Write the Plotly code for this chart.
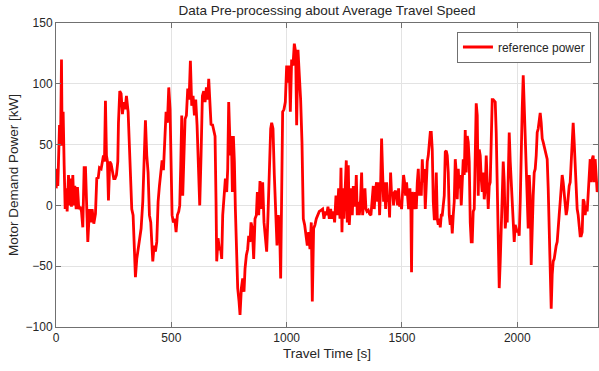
import plotly.graph_objects as go

# Travel time [s] and reference power [kW] in six segments
t_seg1 = [1, 3.6, 7.9, 12.3, 15.2, 19.5, 23.8, 26.7, 31.0, 35.4, 39.7, 44.0, 48.4, 54.2, 58.5, 62.8, 67.1,
          72.9, 77.3, 81.6, 87.4, 93.1, 98.9, 104.7, 110.5, 116.2, 122.0, 127.8, 133.6, 137.9, 145.1, 150.9,
          156.7, 163.9, 171.1, 176.9, 182.7, 188.4, 195.7, 200.0, 205.8, 210.1, 214.4, 218.8, 223.1, 227.4,
          233.2, 239.0, 244.8, 250.5, 256.3, 262.1, 267.9, 270.8, 276.5, 282.3, 288.1, 293.9, 299.6, 305.4,
          312.7, 318.4, 322.8, 328.5, 334.3, 338.6, 344.4, 350.2, 356.0, 361.8]
p_seg1 = [14, 30, 16, 38, 66, 49, 120, 49, 77, 33, -3, 14, -5, 25, 0, 22, -1,
          25, 0, 16, -3, 15, -3, -1, -5, -18, 31, 31, -8, -30, -3, -14,
          -3, -15, -7, 23, 22, 31, 30, 36, 41, 36, 86, 41, 36, 4,
          36, 34, 27, 22, 22, 25, 36, 68, 94, 92, 75, 85, 79, 90,
          77, 46, 16, -3, -8, -36, -59, -44, -36, -27]

t_seg2 = [369.0, 376.2, 382.0, 387.8, 393.6, 399.3, 405.1, 410.9, 415.2, 419.6, 425.3, 431.1, 436.9, 442.7,
          448.4, 454.2, 460.0, 465.8, 471.5, 477.3, 483.1, 488.9, 494.6, 499.0, 503.3, 509.1, 514.9, 520.6,
          526.4, 532.2, 536.5, 540.9, 545.2, 549.5, 553.9, 559.6, 565.4, 571.2, 577.0, 582.7, 588.5, 594.3,
          600.1, 605.8, 611.6, 617.4, 623.2, 628.9, 634.7, 640.5, 646.3, 652.0, 657.8, 662.2, 668.0, 672.3,
          678.0, 683.8, 689.6, 693.9, 696.8, 702.6, 708.4, 714.1, 718.5, 722.8, 728.6, 734.4, 740.1, 744.5,
          748.8]
p_seg2 = [-19, 3, 46, 70, 41, 27, -8, -14, -30, -46, -33, -38, -30, 3,
          16, 25, 37, 29, 60, 77, 68, 97, 79, 25, -8, -14, -11, -22,
          -8, -5, 0, 33, 74, 8, 41, 71, 74, 96, 87, 119, 82, 90,
          74, 87, 66, 33, 0, 41, 90, 94, 85, 97, 87, 104, 85, 66,
          67, 63, 57, 3, -46, -27, -36, -36, -44, -8, 11, 22, 11, 30,
          85]

t_seg3 = [756.0, 760.4, 764.7, 769.0, 773.4, 777.7, 783.5, 787.8, 793.6, 797.9, 803.7, 809.5, 815.2, 819.6,
          825.4, 831.1, 835.5, 841.2, 845.6, 851.3, 857.1, 862.9, 868.7, 873.0, 878.8, 884.5, 890.3, 896.1,
          901.9, 907.7, 913.4, 919.2, 925.0, 930.8, 935.1, 940.9, 946.6, 952.4, 958.2, 964.0, 969.7, 974.1,
          978.4, 982.7, 988.5, 994.3, 1000.1, 1005.9, 1011.6, 1016.0, 1021.7, 1027.5, 1033.3, 1039.1, 1043.4,
          1049.2, 1055.0, 1060.7, 1066.5, 1072.3, 1078.1, 1083.8, 1089.6, 1095.4, 1101.1, 1106.9, 1111.3,
          1117.0, 1122.8, 1128.6, 1135.8, 1141.6, 1148.8, 1156.0]
p_seg3 = [41, 57, 11, 57, 36, -3, -41, -68, -79, -90, -68, -60, -71, -52,
          -41, -36, -25, -30, -14, -19, -44, -11, -8, 11, -8, 20, -3, 19,
          -14, -30, -38, -8, 41, 63, 68, 63, 25, -8, -33, -8, -19, -60,
          -8, 77, 79, 85, 115, 101, 115, 77, 120, 115, 133, 126, 66,
          128, 107, 87, 52, -11, -16, -25, -33, -22, -36, -14, -79,
          -19, -16, -11, -8, -5, -4, -3]

t_seg4 = [1161.9, 1167.7, 1173.5, 1179.2, 1185.0, 1190.8, 1196.6, 1202.4, 1208.1, 1213.9, 1219.7, 1225.5,
          1231.2, 1235.6, 1239.9, 1244.2, 1248.6, 1254.3, 1258.7, 1263.0, 1267.3, 1271.7, 1276.0, 1280.3,
          1284.7, 1289.0, 1293.3, 1297.7, 1302.0, 1306.3, 1310.6, 1315.0, 1319.3, 1325.1, 1329.4, 1335.2,
          1339.5, 1343.9, 1348.2, 1354.0, 1359.7, 1365.5, 1371.3, 1375.6, 1380.0, 1384.3, 1390.1, 1394.4,
          1398.7, 1403.1, 1407.4, 1411.7, 1416.1, 1420.4, 1424.7, 1429.1, 1433.4, 1437.7, 1442.1, 1446.4,
          1450.7, 1455.1, 1459.4, 1463.7, 1468.0, 1472.4, 1476.7, 1481.0, 1485.4, 1489.7, 1494.0, 1498.4,
          1502.7, 1507.0, 1511.4, 1515.7, 1520.0, 1524.4, 1528.7, 1534.5, 1538.8, 1541.5]
p_seg4 = [-11, -5, -8, -1, -11, -3, -11, -5, -14, 8, -8, 14,
          -11, 31, -22, 14, -11, 27, 37, -14, 33, -16, -3, 14,
          -8, 16, 8, -1, 25, -8, 3, -8, 0, 27, -8, 8,
          14, -3, -5, -4, -7, -8, 3, 16, -3, 12, 19, 3,
          19, -8, 16, 55, 27, 3, 19, -3, 19, 3, 8, -10,
          27, 8, 11, 0, 11, 12, 8, 0, 14, -1, 3, -3,
          11, 25, 19, 8, 19, 8, -3, 14, -5, -55]

t_seg5 = [1544.8, 1549.1, 1553.5, 1557.8, 1562.1, 1566.5, 1570.8, 1575.1, 1579.5, 1583.8, 1588.1, 1592.5,
          1596.8, 1601.1, 1605.5, 1609.8, 1614.1, 1618.4, 1622.8, 1627.1, 1631.4, 1635.8, 1640.1, 1644.4,
          1648.8, 1653.1, 1657.4, 1661.8, 1666.1, 1670.4, 1674.8, 1679.1, 1683.4, 1687.8, 1692.1, 1696.4,
          1700.7, 1705.1, 1709.4, 1713.7, 1718.1, 1722.4, 1726.7, 1731.1, 1735.4, 1739.7, 1744.1, 1748.4,
          1752.7, 1757.1, 1761.4, 1765.7, 1770.1, 1774.4, 1778.7, 1783.1, 1787.4, 1791.7, 1796.1, 1800.4,
          1804.7, 1809.0, 1813.4, 1817.7, 1822.0, 1826.4, 1830.7, 1835.0, 1839.4, 1843.7, 1848.0, 1852.4,
          1856.7, 1861.0, 1865.4, 1869.7, 1874.0, 1878.4, 1882.7, 1887.0, 1891.4, 1895.7, 1900.0, 1904.4,
          1908.7, 1913.0, 1917.4, 1921.7]
p_seg5 = [11, 5, -3, 11, -3, 19, 30, 8, 19, 8, 38, 19,
          30, -3, 27, 36, 41, 49, 60, 60, 46, 3, -11, -11,
          27, -11, -16, -11, -18, -8, -8, 0, 8, 44, 45, 41,
          27, -8, -16, -8, -23, -8, 3, 38, 27, 5, 30, 14,
          25, 0, 19, 38, 25, 62, 27, 57, 52, 36, -14, -30,
          -30, -5, -3, 46, 84, 74, 8, 46, 41, 22, 11, 27,
          5, 14, 41, 19, -3, 16, 19, 52, 87, 87, 86, 85,
          60, 14, -36, -68]

t_seg6 = [1926.1, 1930.5, 1934.8, 1939.1, 1943.5, 1947.8, 1952.1, 1956.5, 1960.8, 1965.1, 1969.5, 1973.8,
          1978.1, 1982.5, 1986.8, 1991.1, 1995.5, 1999.8, 2004.1, 2008.4, 2012.8, 2017.1, 2021.4, 2025.8,
          2030.1, 2034.4, 2038.8, 2043.1, 2047.4, 2051.8, 2056.1, 2060.4, 2064.8, 2069.1, 2073.4, 2077.8,
          2082.1, 2086.4, 2090.7, 2095.1, 2099.4, 2103.7, 2108.1, 2112.4, 2116.7, 2121.1, 2125.4, 2129.7,
          2134.1, 2138.4, 2142.7, 2147.1, 2151.4, 2155.7, 2160.1, 2164.4, 2168.7, 2173.1, 2177.4, 2181.7,
          2186.1, 2190.4, 2194.7, 2199.1, 2203.4, 2207.7, 2212.1, 2216.4, 2220.7, 2225.1, 2229.4, 2233.7,
          2238.1, 2242.4, 2246.7, 2251.1, 2255.4, 2259.7, 2264.1, 2268.4, 2272.7, 2277.1, 2281.4, 2285.7,
          2290.1, 2294.4, 2298.7, 2303.1, 2307.4, 2311.7, 2316.1, 2320.4, 2324.7, 2329.1, 2333.4, 2337.7,
          2342.1, 2346.4, 2350.8]
p_seg6 = [-46, -25, 8, 36, 19, -19, -8, -14, 19, 60, 36, 19,
          -8, -16, -30, -16, -19, -22, -20, -25, 3, 57, 79, 107,
          79, 63, 19, -8, -19, 25, 8, -49, -14, 8, 27, 30,
          41, 60, 63, 68, 76, 68, 55, 52, 49, 46, 41, 38,
          14, -25, -46, -85, -57, -46, -44, -36, -33, -30, -14, -8,
          3, 14, 25, 19, 8, -5, -8, -3, 8, 16, 19, 33,
          46, 68, 52, 30, 3, -3, -8, -19, -25, -25, -22, 5,
          3, -8, 0, -5, 11, 22, 38, 19, 38, 41, 19, 38,
          22, 11, 16]

x_ticks = [0, 500, 1000, 1500, 2000]
y_ticks = [-100, -50, 0, 50, 100, 150]

travel_time = t_seg1 + t_seg2 + t_seg3 + t_seg4 + t_seg5 + t_seg6
ref_power = p_seg1 + p_seg2 + p_seg3 + p_seg4 + p_seg5 + p_seg6

FONT = "Liberation Sans, Arial, sans-serif"
AX = "#707070"
TXT = "#262626"

fig = go.Figure()
fig.add_trace(go.Scatter(x=travel_time, y=ref_power, mode="lines", name="reference power",
                         line=dict(color="#ff0000", width=2.8)))

fig.update_layout(
    width=599, height=371,
    margin=dict(l=56, r=1, t=23, b=44, autoexpand=False),
    paper_bgcolor="white", plot_bgcolor="white",
    font=dict(family=FONT, size=12, color=TXT),
    title=dict(text="Data Pre-processing about Average Travel Speed", x=0.5, xref="paper",
               xanchor="center", y=0.972, yref="container", yanchor="middle",
               font=dict(size=13.5, color=TXT)),
    showlegend=True,
    legend=dict(x=0.987, y=0.972, xanchor="right", yanchor="top", bgcolor="white",
                bordercolor=AX, borderwidth=1, font=dict(size=12, color=TXT),
                itemwidth=30, tracegroupgap=0),
)
fig.update_xaxes(range=[0, 2350], tickvals=x_ticks, showgrid=True, gridcolor="#e3e3e3", gridwidth=1,
                 zeroline=False, showline=True, linecolor=AX, linewidth=1, mirror="ticks",
                 ticks="inside", ticklen=5, tickcolor=AX, automargin=False,
                 title=dict(text="Travel Time [s]", font=dict(size=13.5, color=TXT), standoff=4),
                 tickfont=dict(size=12, color=TXT))
fig.update_yaxes(range=[-100, 150], tickvals=y_ticks, showgrid=True, gridcolor="#e3e3e3", gridwidth=1,
                 zeroline=False, showline=True, linecolor=AX, linewidth=1, mirror="ticks",
                 ticks="inside", ticklen=5, tickcolor=AX, automargin=False,
                 title=dict(text="Motor Demand Power [kW]", font=dict(size=13.5, color=TXT), standoff=3),
                 tickfont=dict(size=12, color=TXT))

fig.write_html("out.html", config={"displayModeBar": False},
               post_script="document.body.style.margin='0';document.body.style.overflow='hidden';")
